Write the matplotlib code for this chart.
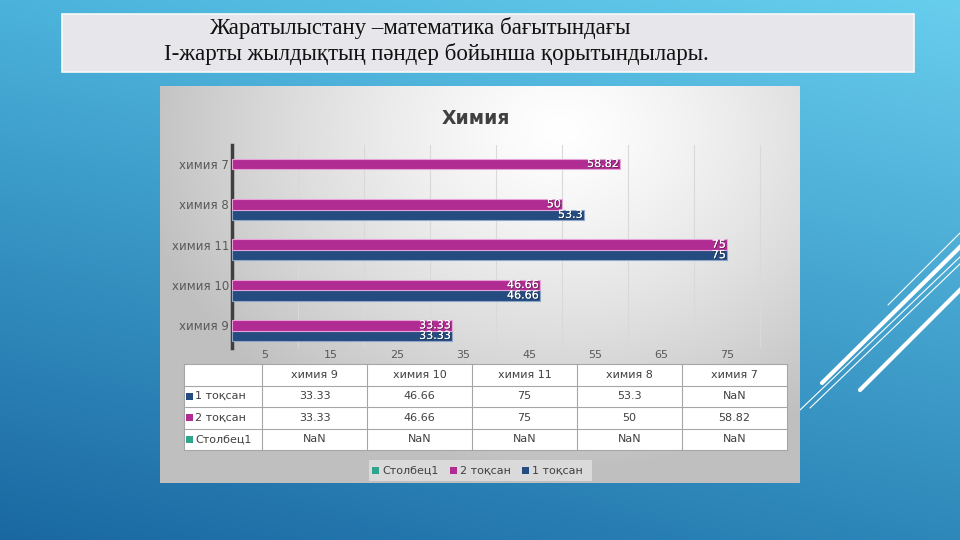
import matplotlib
matplotlib.use("Agg")
import matplotlib.pyplot as plt
import matplotlib.patheffects as pe
from matplotlib.patches import Rectangle
import numpy as np

# ---------------------------------------------------------------------------
# DATA
# ---------------------------------------------------------------------------
categories = ["химия 9", "химия 10", "химия 11", "химия 8", "химия 7"]
q1 = [33.33, 46.66, 75, 53.3, np.nan]
q2 = [33.33, 46.66, 75, 50, 58.82]
col1 = [np.nan, np.nan, np.nan, np.nan, np.nan]
series_names = ["1 тоқсан", "2 тоқсан", "Столбец1"]
series_colors = ["#254C80", "#B02C93", "#2FA58E"]
edge_colors = ["#8FA6C8", "#E7A3D6", "#9ED9CB"]
xticks = [5, 15, 25, 35, 45, 55, 65, 75]
slide_title = ["Жаратылыстану –математика бағытындағы",
               "І-жарты жылдықтың пәндер бойынша қорытындылары."]
chart_title = "Химия"

plt.rcParams['font.family'] = ['DejaVu Sans']

fig = plt.figure(figsize=(9.6, 5.4), dpi=100)

# ---------------------------------------------------------------------------
# SLIDE BACKGROUND (pixel coords)
# ---------------------------------------------------------------------------
bg = fig.add_axes([0, 0, 1, 1])
bg.set_xlim(0, 960)
bg.set_ylim(540, 0)
bg.axis('off')

def hex2rgb(h):
	h = h.lstrip('#')
	return np.array([int(h[i:i+2], 16) / 255 for i in (0, 2, 4)])

tl, tr = hex2rgb("#4BB3DB"), hex2rgb("#68CEEE")
bl, br = hex2rgb("#1A68A2"), hex2rgb("#2E88BA")
u = np.linspace(0, 1, 240)[None, :, None]
v = np.linspace(0, 1, 135)[:, None, None]
img = (1 - v) * ((1 - u) * tl + u * tr) + v * ((1 - u) * bl + u * br)
bg.imshow(img, extent=(0, 960, 540, 0), aspect='auto', zorder=0)

# decorative lines on the right
for (x0, y0, x1, y1, lw) in [(888, 305, 960, 233, 0.8), (822, 383, 962, 245, 3.0),
                              (800, 410, 962, 255, 0.8), (810, 408, 962, 262, 0.8),
                              (860, 390, 962, 288, 3.0)]:
	bg.plot([x0, x1], [y0, y1], color="white", lw=lw, solid_capstyle='round', zorder=1)

# slide title box
bg.add_patch(Rectangle((62, 14), 852, 58, facecolor="#E7E7EB", edgecolor="#F8F8F8", lw=1.2, zorder=2))
bg.text(420, 28, slide_title[0], ha='center', va='center', fontsize=16.5,
        family=['Liberation Serif', 'DejaVu Serif'], color="#111111", zorder=3)
bg.text(436, 54, slide_title[1], ha='center', va='center', fontsize=16.5,
        family=['Liberation Serif', 'DejaVu Serif'], color="#111111", zorder=3)

# chart panel with radial grey gradient
yy, xx = np.mgrid[86:483:2, 160:800:2]
d = np.sqrt(((xx - 560) / 430.0) ** 2 + ((yy - 130) / 340.0) ** 2)
g = 1 - 0.25 * np.clip(d, 0, 1) ** 1.3
panel = np.dstack([g, g, g])
bg.imshow(panel, extent=(160, 800, 483, 86), aspect='auto', zorder=2)
bg.set_xlim(0, 960)
bg.set_ylim(540, 0)

bg.text(476, 118, chart_title, ha='center', va='center', fontsize=13.5,
        fontweight='bold', color="#404040", zorder=3)

# ---------------------------------------------------------------------------
# DATA TABLE
# ---------------------------------------------------------------------------
col_x = [184, 262, 367, 472, 577, 682, 787]
row_y = [364, 385.5, 407, 428.5, 450]
bg.add_patch(Rectangle((col_x[0], row_y[0]), col_x[-1] - col_x[0], row_y[-1] - row_y[0],
                       facecolor="white", edgecolor="none", zorder=3))
for xv in col_x:
	bg.plot([xv, xv], [row_y[0], row_y[-1]], color="#A6A6A6", lw=0.8, zorder=4)
for yv in row_y:
	bg.plot([col_x[0], col_x[-1]], [yv, yv], color="#A6A6A6", lw=0.8, zorder=4)

for j, cat in enumerate(categories):
	xc = (col_x[j + 1] + col_x[j + 2]) / 2
	bg.text(xc, (row_y[0] + row_y[1]) / 2, cat, ha='center', va='center',
	        fontsize=8, color="#404040", zorder=5)

table_series = [q1, q2, col1]
for i, (name, vals) in enumerate(zip(series_names, table_series)):
	yc = (row_y[i + 1] + row_y[i + 2]) / 2
	bg.add_patch(Rectangle((186, yc - 3.5), 6.5, 7, facecolor=series_colors[i],
	                       edgecolor="none", zorder=5))
	bg.text(195, yc, name, ha='left', va='center', fontsize=8, color="#404040", zorder=5)
	for j, val in enumerate(vals):
		xc = (col_x[j + 1] + col_x[j + 2]) / 2
		txt = "NaN" if np.isnan(val) else f"{val:g}"
		bg.text(xc, yc, txt, ha='center', va='center', fontsize=8, color="#404040", zorder=5)

# ---------------------------------------------------------------------------
# LEGEND
# ---------------------------------------------------------------------------
bg.add_patch(Rectangle((369, 460), 223, 21, facecolor="#DADADA", edgecolor="none", zorder=3))
leg_items = [(372, series_names[2], series_colors[2]),
             (450, series_names[1], series_colors[1]),
             (522, series_names[0], series_colors[0])]
for (lx, name, c) in leg_items:
	bg.add_patch(Rectangle((lx, 467), 7, 7, facecolor=c, edgecolor="none", zorder=4))
	bg.text(lx + 10, 470.5, name, ha='left', va='center', fontsize=8, color="#404040", zorder=4)

# ---------------------------------------------------------------------------
# BAR CHART
# ---------------------------------------------------------------------------
ax = fig.add_axes([232 / 960, 1 - 348 / 540, 558 / 960, 203 / 540])
ax.patch.set_alpha(0)
y = np.arange(len(categories))
h = 0.26
b1 = ax.barh(y - h, q1, height=h, color=series_colors[0], edgecolor=edge_colors[0], lw=0.8, zorder=3)
b2 = ax.barh(y, q2, height=h, color=series_colors[1], edgecolor=edge_colors[1], lw=0.8, zorder=3)

for bars, vals, off in [(b1, q1, -h), (b2, q2, 0)]:
	for yi, val in zip(y, vals):
		if np.isnan(val):
			continue
		ax.annotate(f"{val:g}", (val, yi + off), xytext=(-1, 0), textcoords='offset points',
		            ha='right', va='center', fontsize=8, color='white', zorder=5,
		            path_effects=[pe.withSimplePatchShadow(offset=(0.6, -0.6), shadow_rgbFace='#222222', alpha=0.6),
		                          pe.Normal()])

ax.set_xlim(0, 84.5)
ax.set_ylim(-0.56, 4.47)
ax.set_xticks(np.arange(10, 81, 10))
ax.set_xticklabels([])
ax.grid(axis='x', color="#D9D9D9", lw=0.8, zorder=0)
ax.set_yticks(y)
ax.set_yticklabels(categories, fontsize=8.5, color="#595959")
ax.tick_params(axis='both', length=0, pad=2)
for s in ['top', 'right', 'bottom']:
	ax.spines[s].set_visible(False)
ax.spines['left'].set_color("#3F3F3F")
ax.spines['left'].set_linewidth(2.5)

# value labels below the plot (shifted half a step as in the original)
for t in xticks:
	ax.text(t, -0.6, str(t), transform=ax.transData, ha='center', va='top',
	        fontsize=8, color="#595959")

fig.savefig("out.png", dpi=100)
